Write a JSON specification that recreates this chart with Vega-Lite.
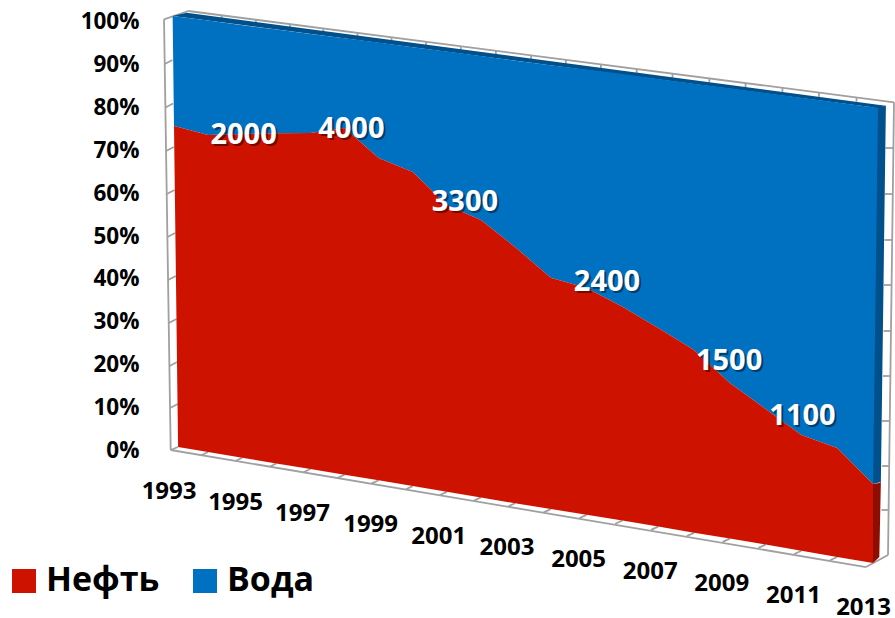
{
  "$schema": "https://vega.github.io/schema/vega-lite/v6.json",
  "width": 895,
  "height": 618,
  "padding": 0,
  "autosize": "none",
  "background": "white",
  "view": {"stroke": null},
  "datasets": {
    "frame": [
      {"year": 1992.707, "upper": 100.63, "yearEnd": 1993.419, "lower": 102.57},
      {"year": 1993.419, "upper": 102.57, "yearEnd": 2013.587, "lower": 81.24},
      {"year": 2013.587, "upper": 81.24, "yearEnd": 2013.419, "lower": -24.53},
      {"year": 2013.419, "upper": -24.53, "yearEnd": 2012.804, "lower": -27.34},
      {"year": 2012.804, "upper": -27.34, "yearEnd": 1992.903, "lower": 0},
      {"year": 1992.903, "upper": 0, "yearEnd": 1992.707, "lower": 100.63},
      {"year": 1992.903, "upper": 0, "yearEnd": 1993.117, "lower": 0.7},
      {"year": 1992.727, "upper": 90.19, "yearEnd": 1992.953, "lower": 91.12},
      {"year": 1992.748, "upper": 80.02, "yearEnd": 1992.974, "lower": 80.96},
      {"year": 1992.768, "upper": 69.86, "yearEnd": 1992.994, "lower": 70.79},
      {"year": 1992.789, "upper": 59.81, "yearEnd": 1993.015, "lower": 60.75},
      {"year": 1992.809, "upper": 49.77, "yearEnd": 1993.035, "lower": 50.7},
      {"year": 1992.827, "upper": 39.72, "yearEnd": 1993.053, "lower": 40.65},
      {"year": 1992.848, "upper": 29.67, "yearEnd": 1993.073, "lower": 30.61},
      {"year": 1992.868, "upper": 19.63, "yearEnd": 1993.094, "lower": 20.56},
      {"year": 1992.886, "upper": 9.81, "yearEnd": 1993.111, "lower": 10.75},
      {"year": 1994.4, "upper": 101.56, "yearEnd": 1994.4, "lower": 100.63},
      {"year": 1995.4, "upper": 100.52, "yearEnd": 1995.4, "lower": 99.59},
      {"year": 1996.4, "upper": 99.5, "yearEnd": 1996.4, "lower": 98.56},
      {"year": 1997.38, "upper": 98.49, "yearEnd": 1997.38, "lower": 97.55},
      {"year": 1998.38, "upper": 97.46, "yearEnd": 1998.38, "lower": 96.53},
      {"year": 1999.38, "upper": 96.42, "yearEnd": 1999.38, "lower": 95.49},
      {"year": 2000.39, "upper": 95.38, "yearEnd": 2000.39, "lower": 94.45},
      {"year": 2001.41, "upper": 94.33, "yearEnd": 2001.41, "lower": 93.39},
      {"year": 2002.44, "upper": 93.27, "yearEnd": 2002.44, "lower": 92.33},
      {"year": 2003.45, "upper": 92.21, "yearEnd": 2003.45, "lower": 91.27},
      {"year": 2004.42, "upper": 91.15, "yearEnd": 2004.42, "lower": 90.21},
      {"year": 2005.4, "upper": 90.09, "yearEnd": 2005.4, "lower": 89.16},
      {"year": 2006.4, "upper": 88.99, "yearEnd": 2006.4, "lower": 88.06},
      {"year": 2007.4, "upper": 87.92, "yearEnd": 2007.4, "lower": 86.99},
      {"year": 2008.43, "upper": 86.82, "yearEnd": 2008.43, "lower": 85.89},
      {"year": 2009.44, "upper": 85.7, "yearEnd": 2009.44, "lower": 84.77},
      {"year": 2010.47, "upper": 84.6, "yearEnd": 2010.47, "lower": 83.67},
      {"year": 2011.49, "upper": 83.48, "yearEnd": 2011.49, "lower": 82.55},
      {"year": 2012.54, "upper": 82.34, "yearEnd": 2012.54, "lower": 81.4},
      {"year": 2013.57, "upper": 70.56, "yearEnd": 2013.35, "lower": 70.56},
      {"year": 2013.553, "upper": 59.81, "yearEnd": 2013.335, "lower": 59.81},
      {"year": 2013.536, "upper": 49.07, "yearEnd": 2013.32, "lower": 49.07},
      {"year": 2013.52, "upper": 38.55, "yearEnd": 2013.307, "lower": 38.55},
      {"year": 2013.503, "upper": 27.8, "yearEnd": 2013.293, "lower": 27.8},
      {"year": 2013.486, "upper": 17.29, "yearEnd": 2013.279, "lower": 17.29},
      {"year": 2013.469, "upper": 6.78, "yearEnd": 2013.251, "lower": 6.78},
      {"year": 2013.453, "upper": -3.74, "yearEnd": 2013.251, "lower": -3.74},
      {"year": 2013.436, "upper": -14.02, "yearEnd": 2013.237, "lower": -14.02},
      {"year": 1994, "upper": -0.47, "yearEnd": 1993.8, "lower": -1.22},
      {"year": 1995, "upper": -1.82, "yearEnd": 1994.8, "lower": -2.57},
      {"year": 1996, "upper": -3.15, "yearEnd": 1995.8, "lower": -3.9},
      {"year": 1997, "upper": -4.44, "yearEnd": 1996.8, "lower": -5.19},
      {"year": 1998, "upper": -5.77, "yearEnd": 1997.8, "lower": -6.52},
      {"year": 1999, "upper": -7.06, "yearEnd": 1998.8, "lower": -7.81},
      {"year": 2000, "upper": -8.43, "yearEnd": 1999.8, "lower": -9.18},
      {"year": 2001, "upper": -9.77, "yearEnd": 2000.8, "lower": -10.52},
      {"year": 2002, "upper": -11.07, "yearEnd": 2001.8, "lower": -11.82},
      {"year": 2003, "upper": -12.45, "yearEnd": 2002.8, "lower": -13.2},
      {"year": 2004, "upper": -13.81, "yearEnd": 2003.8, "lower": -14.56},
      {"year": 2005, "upper": -15.14, "yearEnd": 2004.8, "lower": -15.89},
      {"year": 2006, "upper": -16.47, "yearEnd": 2005.8, "lower": -17.22},
      {"year": 2007, "upper": -17.9, "yearEnd": 2006.8, "lower": -18.65},
      {"year": 2008, "upper": -19.35, "yearEnd": 2007.8, "lower": -20.1},
      {"year": 2009, "upper": -20.7, "yearEnd": 2008.8, "lower": -21.45},
      {"year": 2010, "upper": -22.1, "yearEnd": 2009.8, "lower": -22.85},
      {"year": 2011, "upper": -23.55, "yearEnd": 2010.8, "lower": -24.3},
      {"year": 2012, "upper": -25, "yearEnd": 2011.8, "lower": -25.75}
    ],
    "topFace": [
      {"year": 1992.96, "upper": 101.4, "lower": 101.4},
      {"year": 1993.37, "upper": 102.17, "lower": 100.98},
      {"year": 2013.14, "upper": 80.68, "lower": 79.9},
      {"year": 2013.36, "upper": 80.44, "lower": 80.44}
    ],
    "sideWater": [
      {"year": 2013, "upper": 80.07, "lower": -7.94},
      {"year": 2013.22, "upper": 80.2, "lower": -7.48},
      {"year": 2013.36, "upper": 80.44, "lower": 80.44}
    ],
    "sideOil": [
      {"year": 2013, "upper": -7.94, "lower": -26.4},
      {"year": 2013.176, "upper": -7.7, "lower": -25},
      {"year": 2013.22, "upper": -7.48, "lower": -7.48}
    ],
    "shares": [
      {"series": "Вода", "year": 1992.96, "upper": 101.4, "lower": 101.4},
      {"series": "Вода", "year": 1993, "upper": 101.36, "lower": 75.7},
      {"series": "Вода", "year": 1993.12, "upper": 101.2, "lower": 75.47},
      {"series": "Вода", "year": 1994, "upper": 100.33, "lower": 73.6},
      {"series": "Вода", "year": 1995, "upper": 99.25, "lower": 73.83},
      {"series": "Вода", "year": 1996, "upper": 98.22, "lower": 74},
      {"series": "Вода", "year": 1997, "upper": 97.22, "lower": 74.07},
      {"series": "Вода", "year": 1998, "upper": 96.19, "lower": 75.23},
      {"series": "Вода", "year": 1999, "upper": 95.19, "lower": 68.22},
      {"series": "Вода", "year": 2000, "upper": 94.11, "lower": 64.95},
      {"series": "Вода", "year": 2001, "upper": 93.08, "lower": 57.24},
      {"series": "Вода", "year": 2002, "upper": 92.03, "lower": 53.74},
      {"series": "Вода", "year": 2003, "upper": 90.96, "lower": 47.43},
      {"series": "Вода", "year": 2004, "upper": 89.91, "lower": 40.26},
      {"series": "Вода", "year": 2005, "upper": 88.88, "lower": 37.85},
      {"series": "Вода", "year": 2006, "upper": 87.83, "lower": 33.48},
      {"series": "Вода", "year": 2007, "upper": 86.71, "lower": 28.5},
      {"series": "Вода", "year": 2008, "upper": 85.58, "lower": 23.36},
      {"series": "Вода", "year": 2009, "upper": 84.51, "lower": 15.65},
      {"series": "Вода", "year": 2010, "upper": 83.41, "lower": 9.58},
      {"series": "Вода", "year": 2011, "upper": 82.29, "lower": 3.5},
      {"series": "Вода", "year": 2012, "upper": 81.17, "lower": 0.47},
      {"series": "Вода", "year": 2013, "upper": 80.07, "lower": -7.94},
      {"series": "Вода", "year": 2013.14, "upper": 79.9, "lower": 79.9},
      {"series": "Нефть", "year": 1993, "upper": 75.7, "lower": 75.7},
      {"series": "Нефть", "year": 1993.12, "upper": 75.47, "lower": 0.7},
      {"series": "Нефть", "year": 1994, "upper": 73.6, "lower": -0.47},
      {"series": "Нефть", "year": 1995, "upper": 73.83, "lower": -1.82},
      {"series": "Нефть", "year": 1996, "upper": 74, "lower": -3.15},
      {"series": "Нефть", "year": 1997, "upper": 74.07, "lower": -4.44},
      {"series": "Нефть", "year": 1998, "upper": 75.23, "lower": -5.77},
      {"series": "Нефть", "year": 1999, "upper": 68.22, "lower": -7.06},
      {"series": "Нефть", "year": 2000, "upper": 64.95, "lower": -8.43},
      {"series": "Нефть", "year": 2001, "upper": 57.24, "lower": -9.77},
      {"series": "Нефть", "year": 2002, "upper": 53.74, "lower": -11.07},
      {"series": "Нефть", "year": 2003, "upper": 47.43, "lower": -12.45},
      {"series": "Нефть", "year": 2004, "upper": 40.26, "lower": -13.81},
      {"series": "Нефть", "year": 2005, "upper": 37.85, "lower": -15.14},
      {"series": "Нефть", "year": 2006, "upper": 33.48, "lower": -16.47},
      {"series": "Нефть", "year": 2007, "upper": 28.5, "lower": -17.9},
      {"series": "Нефть", "year": 2008, "upper": 23.36, "lower": -19.35},
      {"series": "Нефть", "year": 2009, "upper": 15.65, "lower": -20.7},
      {"series": "Нефть", "year": 2010, "upper": 9.58, "lower": -22.1},
      {"series": "Нефть", "year": 2011, "upper": 3.5, "lower": -23.55},
      {"series": "Нефть", "year": 2012, "upper": 0.47, "lower": -25},
      {"series": "Нефть", "year": 2013, "upper": -7.94, "lower": -26.4}
    ],
    "yearLabels": [
      {"year": 1993.09, "upper": 0.7},
      {"year": 1995.04, "upper": -1.82},
      {"year": 1997, "upper": -4.44},
      {"year": 1999, "upper": -7.06},
      {"year": 2001, "upper": -9.77},
      {"year": 2003, "upper": -12.45},
      {"year": 2005, "upper": -15.14},
      {"year": 2007, "upper": -17.9},
      {"year": 2009, "upper": -20.7},
      {"year": 2011, "upper": -23.55},
      {"year": 2012.96, "upper": -26.4}
    ],
    "production": [
      {"year": 1995.04, "upper": 74.07, "output": 2000},
      {"year": 1998.2, "upper": 75.4, "output": 4000},
      {"year": 2001.53, "upper": 58.4, "output": 3300},
      {"year": 2005.57, "upper": 39.7, "output": 2400},
      {"year": 2008.98, "upper": 21.2, "output": 1500},
      {"year": 2011.03, "upper": 8.3, "output": 1100}
    ]
  },
  "encoding": {
    "x": {
      "field": "year",
      "type": "quantitative",
      "axis": null,
      "scale": {"domain": [1993, 2003, 2013], "range": [174, 515, 873], "zero": false, "nice": false}
    },
    "y": {
      "field": "upper",
      "type": "quantitative",
      "stack": null,
      "scale": {"domain": [-39.25, 105.14], "zero": false, "nice": false},
      "axis": {
        "title": null,
        "values": [0, 10, 20, 30, 40, 50, 60, 70, 80, 90, 100],
        "labelExpr": "datum.value + '%'",
        "offset": -145,
        "ticks": false,
        "domain": false,
        "grid": false,
        "labelPadding": 6,
        "labelFont": "Open Sans",
        "labelFontWeight": "bold",
        "labelFontSize": 22.5,
        "labelColor": "#000000",
        "labelBaseline": "middle"
      }
    }
  },
  "layer": [
    {
      "data": {"name": "frame"},
      "mark": {"type": "rule", "color": "#a0a0a0", "strokeWidth": 1.8},
      "encoding": {
        "x2": {"field": "yearEnd"},
        "y2": {"field": "lower"}
      }
    },
    {
      "data": {"name": "topFace"},
      "mark": {"type": "area", "color": "#00508c"},
      "encoding": {"y2": {"field": "lower"}}
    },
    {
      "data": {"name": "sideWater"},
      "mark": {"type": "area", "color": "#00508c"},
      "encoding": {"y2": {"field": "lower"}}
    },
    {
      "data": {"name": "sideOil"},
      "mark": {"type": "area", "color": "#8f0c00"},
      "encoding": {"y2": {"field": "lower"}}
    },
    {
      "data": {"name": "shares"},
      "mark": {"type": "area"},
      "encoding": {
        "y2": {"field": "lower"},
        "color": {
          "field": "series",
          "type": "nominal",
          "scale": {"domain": ["Нефть", "Вода"], "range": ["#cd1300", "#0070c0"]},
          "legend": {
            "title": null,
            "orient": "none",
            "legendX": 7,
            "legendY": 564,
            "direction": "horizontal",
            "symbolType": "square",
            "symbolSize": 576,
            "symbolStrokeWidth": 0,
            "symbolOpacity": 1,
            "labelFont": "Open Sans",
            "labelFontWeight": "bold",
            "labelFontSize": 34,
            "labelColor": "#000000",
            "labelOffset": 5,
            "columnPadding": 28,
            "labelLimit": 300,
            "padding": 0
          }
        }
      }
    },
    {
      "data": {"name": "yearLabels"},
      "mark": {
        "type": "text",
        "dy": 45,
        "dx": -8,
        "font": "Open Sans",
        "fontWeight": "bold",
        "fontSize": 24,
        "color": "#000000",
        "baseline": "middle"
      },
      "encoding": {"text": {"field": "year", "type": "quantitative", "format": "d"}}
    },
    {
      "data": {"name": "production"},
      "mark": {
        "type": "text",
        "dx": 2,
        "dy": 4,
        "font": "Open Sans",
        "fontWeight": "bold",
        "fontSize": 29,
        "color": "#000000",
        "opacity": 0.45,
        "baseline": "middle"
      },
      "encoding": {"text": {"field": "output", "type": "quantitative", "format": "d"}}
    },
    {
      "data": {"name": "production"},
      "mark": {
        "type": "text",
        "dy": 2,
        "font": "Open Sans",
        "fontWeight": "bold",
        "fontSize": 29,
        "color": "#ffffff",
        "baseline": "middle"
      },
      "encoding": {"text": {"field": "output", "type": "quantitative", "format": "d"}}
    }
  ]
}
